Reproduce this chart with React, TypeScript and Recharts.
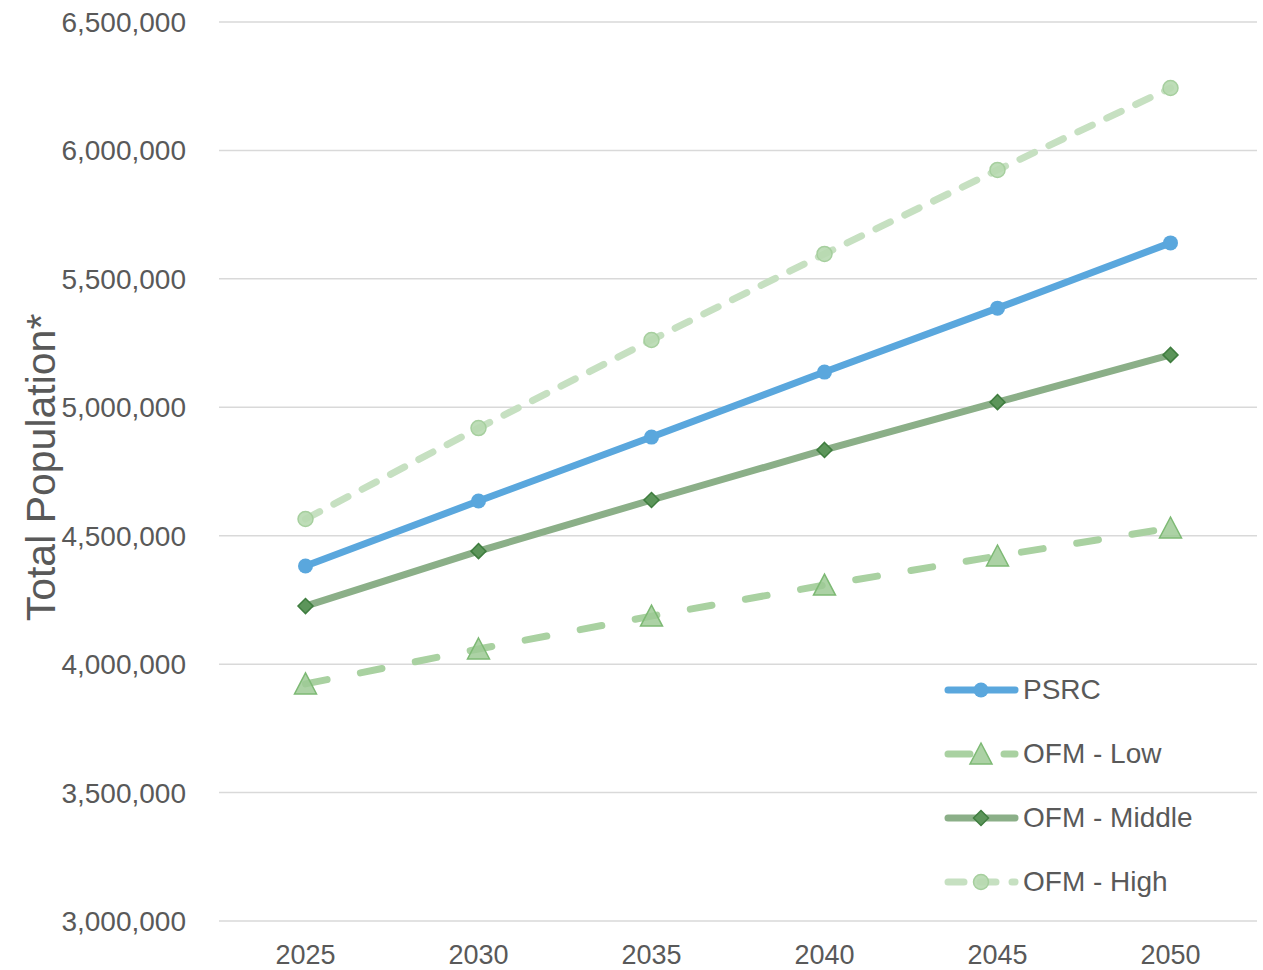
import { LineChart, Line, XAxis, YAxis, CartesianGrid, Legend } from 'recharts';

const YEARS = ['2025', '2030', '2035', '2040', '2045', '2050'];
const PSRC = [4382000, 4635000, 4884000, 5137000, 5386000, 5640000];
const OFM_LOW = [3923000, 4059000, 4187000, 4308000, 4421000, 4530000];
const OFM_MIDDLE = [4226000, 4440000, 4639000, 4834000, 5020000, 5204000];
const OFM_HIGH = [4565000, 4919000, 5262000, 5597000, 5924000, 6243000];
const Y_TICKS = [3000000, 3500000, 4000000, 4500000, 5000000, 5500000, 6000000, 6500000];

const data = YEARS.map((year, i) => ({
  year,
  psrc: PSRC[i],
  low: OFM_LOW[i],
  middle: OFM_MIDDLE[i],
  high: OFM_HIGH[i],
}));

const FONT = '"Liberation Sans", Arial, sans-serif';
const TEXT = '#595959';

const BLUE = '#5AA7DD';
const LOW_LINE = '#A9D1A1';
const MID_LINE = '#8BAF88';
const HIGH_LINE = '#C6E0C1';

function Triangle({ cx, cy }: { cx?: number; cy?: number }) {
  if (cx == null || cy == null) return null;
  return (
    <path
      d={`M${cx},${cy - 11}L${cx + 11},${cy + 10}L${cx - 11},${cy + 10}Z`}
      fill="#9ECA95"
      fillOpacity={0.85}
      stroke="#7DB974"
      strokeWidth={1.5}
    />
  );
}

function Diamond({ cx, cy }: { cx?: number; cy?: number }) {
  if (cx == null || cy == null) return null;
  const r = 7.5;
  return (
    <path
      d={`M${cx},${cy - r}L${cx + r},${cy}L${cx},${cy + r}L${cx - r},${cy}Z`}
      fill="#5C955A"
      stroke="#3F7D3F"
      strokeWidth={1.5}
    />
  );
}

function HighDot({ cx, cy }: { cx?: number; cy?: number }) {
  if (cx == null || cy == null) return null;
  return <circle cx={cx} cy={cy} r={7.5} fill="#B7D9B0" fillOpacity={0.9} stroke="#A6CF9E" strokeWidth={1.5} />;
}

function BlueDot({ cx, cy }: { cx?: number; cy?: number }) {
  if (cx == null || cy == null) return null;
  return <circle cx={cx} cy={cy} r={7.5} fill={BLUE} />;
}

const SERIES = [
  { key: 'psrc', name: 'PSRC', color: BLUE, dash: undefined, Marker: BlueDot },
  { key: 'low', name: 'OFM - Low', color: LOW_LINE, dash: '22 34', Marker: Triangle },
  { key: 'middle', name: 'OFM - Middle', color: MID_LINE, dash: undefined, Marker: Diamond },
  { key: 'high', name: 'OFM - High', color: HIGH_LINE, dash: '16 16', Marker: HighDot },
];

function LegendBox() {
  return (
    <div style={{ fontFamily: FONT, fontSize: 28, color: TEXT }}>
      {SERIES.map((s) => (
        <div key={s.key} style={{ display: 'flex', alignItems: 'center', height: 64 }}>
          <svg width={81} height={30} style={{ display: 'block' }}>
            <line
              x1={6}
              x2={73}
              y1={15}
              y2={15}
              stroke={s.color}
              strokeWidth={7}
              strokeLinecap="round"
              strokeDasharray={s.dash}
            />
            <s.Marker cx={39} cy={15} />
          </svg>
          <span style={{ lineHeight: '30px' }}>{s.name}</span>
        </div>
      ))}
    </div>
  );
}

function YLabel(props: any) {
  const vb = props.viewBox || { x: 0, y: 0, height: 0 };
  const cx = vb.x + 41;
  const cy = vb.y + vb.height / 2 - 4;
  return (
    <text
      x={cx}
      y={cy}
      transform={`rotate(-90, ${cx}, ${cy})`}
      textAnchor="middle"
      dominantBaseline="central"
      fontFamily={FONT}
      fontSize={41}
      fill={TEXT}
    >
      Total Population*
    </text>
  );
}

export default function App() {
  return (
    <div style={{ position: 'absolute', left: 0, top: 0, width: 1263, height: 970, background: '#fff' }}>
      <LineChart width={1263} height={970} data={data} margin={{ top: 22, right: 6, left: 0, bottom: 0 }}>
        <CartesianGrid vertical={false} stroke="#D9D9D9" strokeWidth={1.5} />
        <XAxis
          dataKey="year"
          axisLine={false}
          tickLine={false}
          tickSize={0}
          tickMargin={24}
          height={49}
          padding={{ left: 86.5, right: 86.5 }}
          tick={{ fontFamily: FONT, fontSize: 27, fill: TEXT }}
        />
        <YAxis
          width={219}
          domain={[3000000, 6500000]}
          ticks={Y_TICKS}
          axisLine={false}
          tickLine={false}
          tickSize={0}
          tickMargin={33}
          tickFormatter={(v: number) => v.toLocaleString('en-US')}
          tick={{ fontFamily: FONT, fontSize: 28, fill: TEXT }}
          label={{ content: YLabel }}
        />
        <Legend
          layout="vertical"
          align="center"
          verticalAlign="middle"
          content={() => <LegendBox />}
          wrapperStyle={{ left: 942, top: 658, width: 300, height: 260 }}
        />
        {SERIES.map((s) => (
          <Line
            key={s.key}
            type="linear"
            dataKey={s.key}
            name={s.name}
            stroke={s.color}
            strokeWidth={7}
            strokeLinecap="round"
            strokeDasharray={s.dash}
            dot={(p: any) => <s.Marker key={`${s.key}-${p.index}`} cx={p.cx} cy={p.cy} />}
            activeDot={false}
            isAnimationActive={false}
          />
        ))}
      </LineChart>
    </div>
  );
}
